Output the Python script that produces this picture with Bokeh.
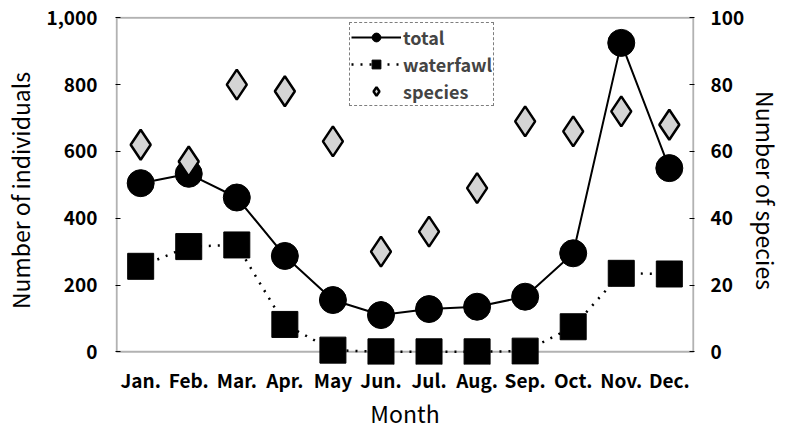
from bokeh.plotting import figure
from bokeh.models import (Range1d, LinearAxis, NumeralTickFormatter, FixedTicker,
                          Legend, LegendItem, BoxAnnotation)
from bokeh.embed import file_html
from bokeh.resources import INLINE

months = ["Jan.", "Feb.", "Mar.", "Apr.", "May", "Jun.", "Jul.", "Aug.", "Sep.", "Oct.", "Nov.", "Dec."]
total = [505, 533, 462, 287, 155, 110, 128, 135, 165, 295, 925, 550]
waterfawl = [256, 315, 320, 82, 5, 0, 0, 0, 2, 75, 235, 233]
species = [62, 57, 80, 78, 63, 30, 36, 49, 69, 66, 72, 68]
left_ticks = [0, 200, 400, 600, 800, 1000]
right_ticks = [0, 20, 40, 60, 80, 100]

FONT = "Noto Sans CJK JP"

p = figure(x_range=months, y_range=Range1d(-38, 1004), width=786, height=432,
           output_backend="svg", toolbar_location=None,
           min_border_left=108, min_border_right=76, min_border_top=16, min_border_bottom=0)
p.x_range.range_padding = 0.004
p.extra_y_ranges = {"sp": Range1d(-3.8, 100.4)}
p.xgrid.visible = False
p.ygrid.visible = False
p.outline_line_color = None

frame = BoxAnnotation(left=0, right=len(months), bottom=0, top=1000, fill_alpha=0,
                      line_color="black", line_width=2, level="underlay")
p.add_layout(frame)

r_tl = p.line(months, total, line_color="black", line_width=2)
r_tc = p.scatter(months, total, marker="circle", size=27, fill_color="black", line_color="black")
r_wl = p.line(months, waterfawl, line_color="black", line_width=2.5, line_dash="2 7")
r_wc = p.scatter(months, waterfawl, marker="square", size=26, fill_color="black", line_color="black")
r_sp = p.scatter(months, species, y_range_name="sp", marker="diamond", size=30,
                 fill_color="#d4d4d4", line_color="black", line_width=2.5)

ax_r = LinearAxis(y_range_name="sp", ticker=FixedTicker(ticks=right_ticks),
                  axis_label="Number of species")
p.add_layout(ax_r, "right")

p.yaxis[0].ticker = FixedTicker(ticks=left_ticks)
p.yaxis[0].formatter = NumeralTickFormatter(format="0,0")
p.yaxis[0].axis_label = "Number of individuals"
p.xaxis.axis_label = "Month"

for ax in p.yaxis + p.xaxis:
    ax.axis_line_color = None
    ax.major_tick_in = 5
    ax.major_tick_out = 0
    ax.major_tick_line_width = 1
    ax.minor_tick_line_color = None
    ax.major_label_text_font = FONT
    ax.major_label_text_font_size = "19px"
    ax.major_label_text_font_style = "bold"
    ax.major_label_text_color = "black"
    ax.axis_label_text_font = FONT
    ax.axis_label_text_font_size = "23px"
    ax.axis_label_text_font_style = "normal"
    ax.axis_label_text_color = "black"
p.xaxis.major_tick_line_color = None
p.xaxis.major_label_standoff = 1
p.xaxis.axis_label_standoff = 0
p.yaxis[0].major_label_standoff = 18
p.yaxis[0].axis_label_standoff = 6
ax_r.major_label_standoff = 16
ax_r.axis_label_standoff = 2

legend = Legend(items=[
    LegendItem(label="total", renderers=[r_tl, r_tc]),
    LegendItem(label="waterfawl", renderers=[r_wl, r_wc]),
    LegendItem(label="species", renderers=[r_sp]),
], location=(234, 258))
legend.border_line_color = "black"
legend.border_line_dash = "4 3"
legend.border_line_width = 1
legend.background_fill_alpha = 1
legend.label_text_font = FONT
legend.label_text_font_size = "18px"
legend.label_text_font_style = "bold"
legend.glyph_width = 50
legend.glyph_height = 22
legend.label_height = 22
legend.label_standoff = 2
legend.spacing = 1
legend.padding = 1
legend.margin = 0
p.add_layout(legend, "center")

open("out.html", "w").write(file_html(p, INLINE))
